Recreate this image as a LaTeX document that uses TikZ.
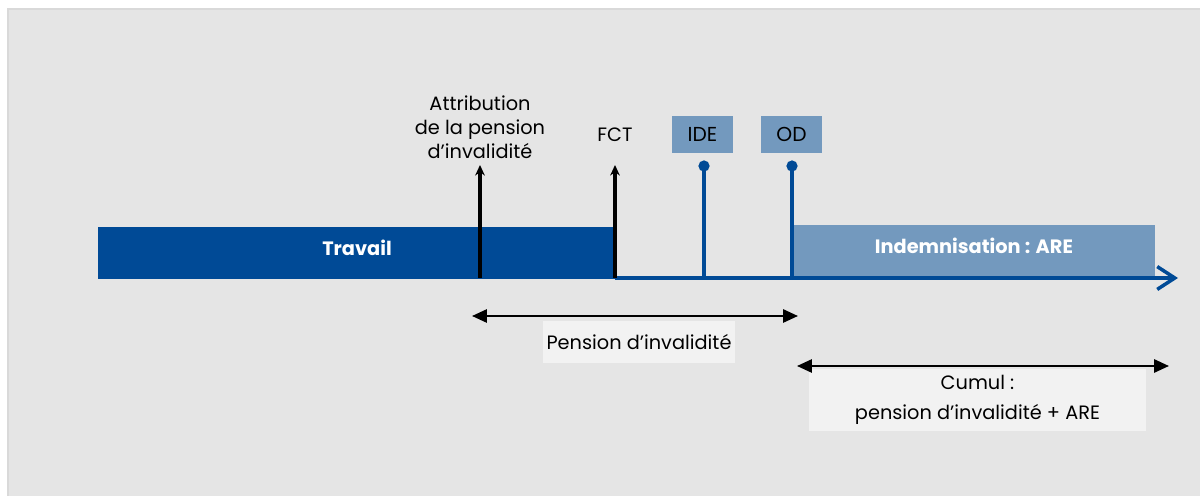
\documentclass[tikz,border=0pt]{standalone}
\usepackage{fontspec}
\setmainfont{Poppins}
\usetikzlibrary{arrows.meta}

\definecolor{bleufonce}{HTML}{004A96}
\definecolor{bleuclair}{HTML}{7399BE}
\definecolor{fond}{HTML}{E5E5E5}
\definecolor{bord}{HTML}{D9D9D9}
\definecolor{etiquette}{HTML}{F2F2F2}

\tikzset{
	barre/.style={anchor=north west, inner sep=0pt, text=white, font=\fontsize{11}{13}\selectfont\bfseries},
	jalon/.style={fill=bleuclair, minimum width=1.22cm, minimum height=0.74cm, inner sep=0pt, font=\fontsize{11.5}{13}\selectfont},
	texte/.style={align=center, inner sep=0pt, font=\fontsize{11}{13.6}\selectfont},
	cadre/.style={fill=etiquette, inner sep=0pt, align=center, font=\fontsize{11}{17}\selectfont},
	fleche/.style={line width=1.8pt, -{Stealth[length=6pt,width=5.5pt]}},
	duree/.style={line width=1.3pt, {Triangle[length=8.5pt,width=7.5pt]}-{Triangle[length=8.5pt,width=7.5pt]}},
	tige/.style={bleufonce, line width=1.8pt}
}

\begin{document}
\begin{tikzpicture}[x=0.02cm,y=-0.02cm]
	\useasboundingbox (0,0) rectangle (1200,496);
	\fill[white] (0,0) rectangle (1200,496);
	\draw[bord, fill=fond, line width=0.6pt] (8,9) rectangle (1201,497);

	% barres de la frise
	\node[barre, fill=bleufonce, minimum width=10.36cm, minimum height=1.04cm] (travail) at (98,227) {};
	\node[barre, fill=bleuclair, minimum width=7.24cm, minimum height=1.06cm] (are) at (793,225) {};
	\node[text=white, font=\fontsize{11}{13}\selectfont\bfseries] (travailtxt) at (357,248) {Travail};
	\node[text=white, font=\fontsize{11}{13}\selectfont\bfseries] (aretxt) at (974,246) {Indemnisation : ARE};

	% axe du temps
	\coordinate (debut) at (615,278);
	\coordinate (fin) at (1178,278);
	\draw[bleufonce, line width=2pt, -{Straight Barb[length=10pt,width=13pt,line width=2pt]}] (debut) -- (fin);

	% jalons
	\coordinate (attr) at (480,278);
	\coordinate (attrhaut) at (480,165);
	\coordinate (fct) at (615,278);
	\coordinate (fcthaut) at (615,165);
	\coordinate (ide) at (704,278);
	\coordinate (idehaut) at (704,166);
	\coordinate (od) at (792,278);
	\coordinate (odhaut) at (792,166);

	\draw[fleche] (attr) -- (attrhaut);
	\draw[fleche] (fct) -- (fcthaut);
	\draw[tige] (ide) -- (idehaut);
	\draw[tige] (od) -- (odhaut);
	\fill[bleufonce] (idehaut) circle[radius=3.2pt];
	\fill[bleufonce] (odhaut) circle[radius=3.2pt];

	\node[texte] (attrtxt) at (480,127) {Attribution\\de la pension\\d’invalidité};
	\node[texte] (fcttxt) at (615,135) {FCT};
	\node[jalon] (idebox) at (702.5,134.5) {IDE};
	\node[jalon] (odbox) at (791.5,134.5) {OD};

	% durees
	\coordinate (pensiong) at (472,316);
	\coordinate (pensiond) at (798,316);
	\coordinate (cumulg) at (797,366);
	\coordinate (cumuld) at (1169,366);
	\node[cadre, minimum width=3.84cm, minimum height=0.84cm] (pension) at (639,342) {Pension d’invalidité};
	\node[cadre, minimum width=6.74cm, minimum height=1.24cm] (cumul) at (977.5,400) {Cumul :\\pension d’invalidité + ARE};
	\draw[duree] (pensiong) -- (pensiond);
	\draw[duree] (cumulg) -- (cumuld);
\end{tikzpicture}
\end{document}
